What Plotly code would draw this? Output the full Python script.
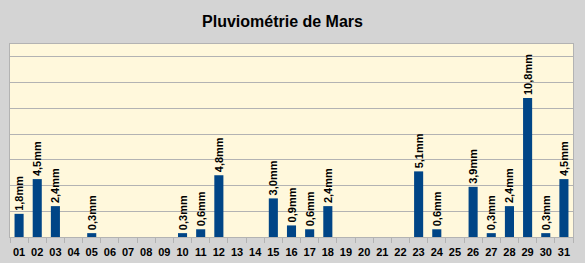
import plotly.graph_objects as go

days = [f"{d:02d}" for d in range(1, 32)]
rain = [1.8, 4.5, 2.4, 0, 0.3, 0, 0, 0, 0, 0.3, 0.6, 4.8, 0, 0, 3.0, 0.9, 0.6, 2.4,
        0, 0, 0, 0, 5.1, 0.6, 0, 3.9, 0.3, 2.4, 10.8, 0.3, 4.5]
labels = [(f"{v:.1f}".replace(".", ",") + "mm") if v > 0 else "" for v in rain]

fig = go.Figure(go.Bar(
    x=days, y=rain, text=labels, textposition="outside", textangle=-90,
    textfont=dict(family="Liberation Sans", size=11, color="black", weight="bold"),
    marker=dict(color="#004586", line=dict(width=0)),
    cliponaxis=False, hoverinfo="skip",
))

fig.update_layout(
    width=585, height=263,
    margin=dict(l=10, r=12, t=44, b=26),
    paper_bgcolor="#d4d4d4", plot_bgcolor="#fff8dc",
    bargap=0.5, showlegend=False,
    title=dict(text="<b>Pluviométrie de Mars</b>", x=282.5 / 585, xanchor="center",
               y=1 - 21 / 263, yanchor="middle",
               font=dict(family="Liberation Sans", size=16, color="black")),
    uniformtext=dict(minsize=11, mode="show"),
)
fig.update_xaxes(
    type="category", tickson="boundaries", ticks="outside", ticklen=5, tickangle=0,
    tickcolor="#b3b3b3", showline=True, linecolor="#b3b3b3", linewidth=1, mirror=True,
    showgrid=False, ticklabelstandoff=5, automargin=False,
    tickfont=dict(family="Liberation Sans", size=11, color="black", weight="bold"),
)
fig.update_yaxes(
    range=[0, 15], dtick=2, showticklabels=False, ticks="", showgrid=True,
    gridcolor="#b3b3b3", gridwidth=1, showline=True, linecolor="#b3b3b3", mirror=True,
    zeroline=False, automargin=False,
)
fig.write_html("out.html")
